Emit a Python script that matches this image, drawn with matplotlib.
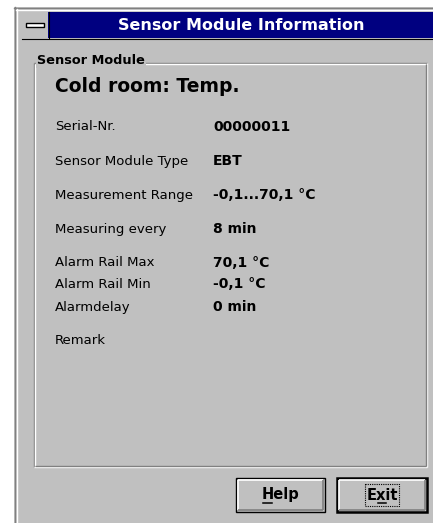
import matplotlib.pyplot as plt
from matplotlib.patches import Rectangle

# dialog content
title = "Sensor Module Information"
group_label = "Sensor Module"
heading = "Cold room: Temp."
labels = ["Serial-Nr.", "Sensor Module Type", "Measurement Range",
          "Measuring every", "Alarm Rail Max", "Alarm Rail Min",
          "Alarmdelay", "Remark"]
values = ["00000011", "EBT", "-0,1...70,1 °C", "8 min",
          "70,1 °C", "-0,1 °C", "0 min", ""]
row_y = [127, 161, 195, 229, 263, 284, 307, 341]
buttons = ["Help", "Exit"]

W, H = 433, 523
GREY = "#c0c0c0"
DARK = "#808080"
NAVY = "#000080"
FONT = "DejaVu Sans"

fig = plt.figure(figsize=(W / 100, H / 100), dpi=100)
ax = fig.add_axes([0, 0, 1, 1])
ax.set_xlim(0, W)
ax.set_ylim(H, 0)
ax.axis("off")
fig.patch.set_facecolor("white")


def box(x0, y0, x1, y1, **kw):
    ax.add_patch(Rectangle((x0, y0), x1 - x0, y1 - y0, **kw))


def bevel(x0, y0, x1, y1, light, dark, lw=1.0):
    ax.plot([x0, x1], [y0, y0], color=light, lw=lw, solid_capstyle="butt")
    ax.plot([x0, x0], [y0, y1], color=light, lw=lw, solid_capstyle="butt")
    ax.plot([x0, x1], [y1, y1], color=dark, lw=lw, solid_capstyle="butt")
    ax.plot([x1, x1], [y0, y1], color=dark, lw=lw, solid_capstyle="butt")


# window
box(14, 7, W + 2, H + 2, facecolor=GREY, edgecolor="none")
ax.plot([14.5, 14.5], [7, H], color=DARK, lw=1)
ax.plot([14, W], [7.5, 7.5], color=DARK, lw=1)
ax.plot([16.5, 16.5], [9, H], color="white", lw=1)
ax.plot([16, W], [9.5, 9.5], color="white", lw=1)

# title bar
box(22, 12, W + 2, 38, facecolor=NAVY, edgecolor="none")
box(22, 12, 48, 38, facecolor=GREY, edgecolor="none")
ax.plot([48.5, 48.5], [12, 38], color="black", lw=0.8)
ax.plot([22, W], [38.5, 38.5], color="black", lw=0.8)
box(26, 23, 44, 27, facecolor="white", edgecolor="black", lw=1.0)
ax.text(241, 25.5, title, color="white", fontsize=11.5, fontweight="bold",
        ha="center", va="center", family=FONT)

# group box
bevel(33.5, 62.5, 426.5, 466.5, DARK, "white", lw=1.0)
bevel(34.5, 63.5, 425.5, 465.5, "white", DARK, lw=1.0)
ax.text(37, 61, group_label, fontsize=9.3, fontweight="bold", ha="left",
        va="center", family=FONT,
        bbox=dict(facecolor=GREY, edgecolor="none", pad=0.5))
ax.text(55, 87, heading, fontsize=13.5, fontweight="bold", ha="left",
        va="center", family=FONT)

for lab, val, y in zip(labels, values, row_y):
    ax.text(55, y, lab, fontsize=9.5, ha="left", va="center", family=FONT)
    if val:
        ax.text(213, y, val, fontsize=10, fontweight="bold", ha="left",
                va="center", family=FONT)

# buttons
for name, (bx0, bx1) in zip(buttons, [(236, 325), (337, 427)]):
    by0, by1 = 478, 512
    box(bx0, by0, bx1, by1, facecolor=GREY, edgecolor="black",
        lw=1.8 if name == "Exit" else 1.0)
    bevel(bx0 + 2, by0 + 2, bx1 - 2, by1 - 2, "white", DARK, lw=1.2)
    cx = (bx0 + bx1) / 2
    ax.text(cx, (by0 + by1) / 2, name, fontsize=10.5,
            fontweight="bold", ha="center", va="center", family=FONT)
    if name == "Help":
        ax.plot([cx - 18, cx - 9], [502.5, 502.5], color="black", lw=1.1)
    else:
        ax.plot([cx - 4, cx + 4], [502.5, 502.5], color="black", lw=1.1)
        box(cx - 17, 484, cx + 17, 506, facecolor="none", edgecolor="black",
            lw=0.8, linestyle=(0, (1, 1)))

fig.savefig("out.png", dpi=100, facecolor="white")
